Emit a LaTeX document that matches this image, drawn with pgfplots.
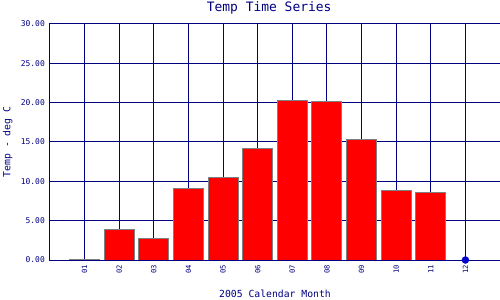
\documentclass[border=0pt]{standalone}
\usepackage{pgfplots}
\pgfplotsset{compat=1.18}
\usepackage{fontspec}
\setmainfont{DejaVu Sans Mono}
\definecolor{navy}{RGB}{0,0,128}
\definecolor{dotblue}{RGB}{0,0,205}
\definecolor{edgegray}{RGB}{128,128,128}
\begin{document}
\begin{tikzpicture}
\useasboundingbox (0,0) rectangle (500bp,300bp);
\begin{axis}[
  at={(50bp,40bp)}, anchor=south west,
  scale only axis, width=450bp, height=236bp,
  xmin=0, xmax=13, ymin=0, ymax=30,
  axis line style={navy, line width=1bp},
  grid=major, grid style={navy, line width=1bp},
  major tick length=0pt,
  xtick={1,...,12},
  xticklabels={01,02,03,04,05,06,07,08,09,10,11,12},
  xticklabel shift=5bp,
  x tick label style={rotate=90, anchor=east, inner sep=0pt, text=navy, font=\fontsize{7.2}{8}\selectfont},
  ytick={0,5,...,30},
  yticklabel shift=5bp,
  y tick label style={anchor=east, inner sep=0pt, text=navy, font=\fontsize{8}{9}\selectfont,
    /pgf/number format/.cd, fixed, fixed zerofill, precision=2, assume math mode=true},
  every axis title shift=0pt,
  title={Temp Time Series},
  title style={at={(axis description cs:0.487,1.068)}, anchor=center, yshift=0pt, text=navy, font=\fontsize{13}{15}\selectfont},
  xlabel={2005 Calendar Month},
  xlabel style={at={(axis description cs:0.5,-0.142)}, anchor=center, text=navy, font=\fontsize{9.8}{11}\selectfont},
  ylabel={Temp - deg C},
  ylabel style={at={(axis description cs:-0.094,0.5)}, anchor=center, text=navy, font=\fontsize{9.8}{11}\selectfont},
]
\addplot[ybar, bar width=30bp, fill=red, draw=edgegray, line width=1bp] coordinates {
  (1,0.1) (2,3.9) (3,2.75) (4,9.1) (5,10.5) (6,14.2) (7,20.3) (8,20.2) (9,15.3) (10,8.85) (11,8.6)
};
\addplot[only marks, mark=*, mark size=3.5bp, color=dotblue] coordinates {(12,0)};
\end{axis}
\end{tikzpicture}
\end{document}
